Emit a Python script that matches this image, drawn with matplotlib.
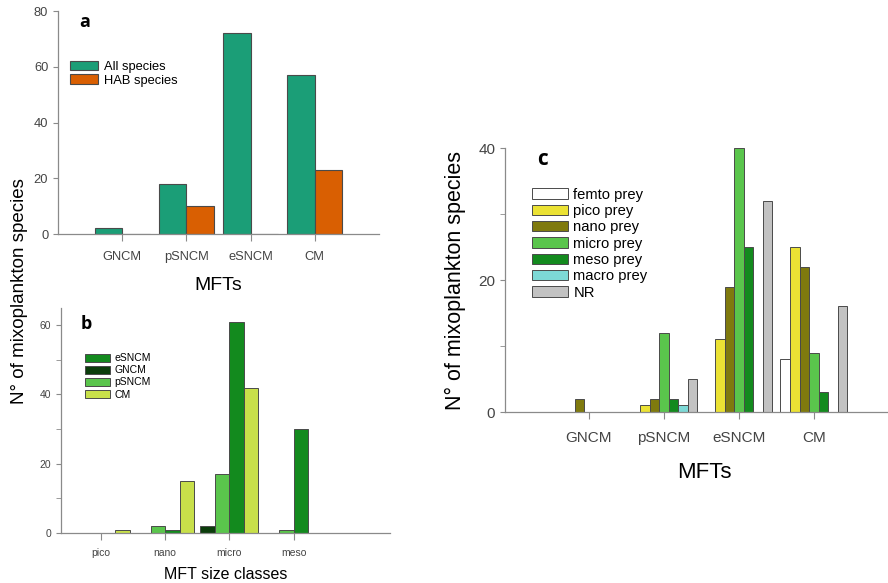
import numpy as np
import matplotlib.pyplot as plt
from matplotlib.ticker import MultipleLocator

plt.rcParams['font.family'] = ['Liberation Sans', 'DejaVu Sans']

# panel a
mft = ["GNCM", "pSNCM", "eSNCM", "CM"]
all_species = [2, 18, 72, 57]
hab_species = [0, 10, 0, 23]

# panel b
size_classes = ["pico", "nano", "micro", "meso"]
b_series = ["GNCM", "pSNCM", "eSNCM", "CM"]
b_gncm = [0, 0, 2, 0]
b_psncm = [0, 2, 17, 1]
b_esncm = [0, 1, 61, 30]
b_cm = [1, 15, 42, 0]

# panel c
prey = ["femto prey", "pico prey", "nano prey", "micro prey", "meso prey", "macro prey", "NR"]
femto = [0, 0, 0, 8]
pico = [0, 1, 11, 25]
nano = [2, 2, 19, 22]
micro = [0, 12, 40, 9]
meso = [0, 2, 25, 3]
macro = [0, 1, 0, 0]
nr = [0, 5, 32, 16]

edge = "#4a4a4a"
spine_col = "#8a8a8a"
tick_col = "#444444"


def style(ax, fs, pad):
    for s in ["top", "right"]:
        ax.spines[s].set_visible(False)
    for s in ["left", "bottom"]:
        ax.spines[s].set_color(spine_col)
        ax.spines[s].set_linewidth(0.9)
    ax.tick_params(colors=spine_col, labelcolor=tick_col, labelsize=fs, direction="out")
    ax.tick_params(axis="x", length=5, pad=pad)


fig = plt.figure(figsize=(8.88, 5.83), dpi=100)

# ---- a
ax1 = fig.add_axes([0.0653, 0.5986, 0.3615, 0.3825])
x = np.arange(1, 5)
w = 0.43
ax1.bar(x - w / 2, all_species, w, color="#1b9e77", edgecolor=edge, linewidth=0.8, label="All species")
ax1.bar(x + w / 2, hab_species, w, color="#d95f02", edgecolor=edge, linewidth=0.8, label="HAB species")
ax1.set_xlim(0, 5)
ax1.set_ylim(0, 80)
ax1.set_xticks(x)
ax1.set_xticklabels(mft)
ax1.set_yticks([0, 20, 40, 60, 80])
style(ax1, 9.3, 7)
ax1.set_xlabel("MFTs", fontsize=14, labelpad=10)
ax1.text(0.065, 0.95, "a", transform=ax1.transAxes, fontsize=13, fontweight="bold",
         family="Open Sans", va="center")
ax1.legend(loc="upper left", bbox_to_anchor=(0.0, 0.83), frameon=False, fontsize=9.3,
           handlelength=2.2, handleheight=0.8, labelspacing=0.1, handletextpad=0.45)

# ---- b
ax2 = fig.add_axes([0.0687, 0.0858, 0.3705, 0.386])
xb = np.arange(1, 5)
wb = 0.225
b_vals = [b_gncm, b_psncm, b_esncm, b_cm]
b_cols = ["#0b3d0b", "#5ac54c", "#138a1e", "#c8e04a"]
for i, (vals, col, name) in enumerate(zip(b_vals, b_cols, b_series)):
    ax2.bar(xb + (i - 1.5) * wb, vals, wb, color=col, edgecolor=edge, linewidth=0.7, label=name)
ax2.set_xlim(0.38, 5.5)
ax2.set_ylim(0, 65)
ax2.set_xticks(xb)
ax2.set_xticklabels(size_classes)
ax2.set_yticks([0, 20, 40, 60])
ax2.yaxis.set_minor_locator(MultipleLocator(10))
style(ax2, 7.5, 6)
ax2.tick_params(axis="y", which="minor", colors=spine_col, length=3.5)
ax2.set_xlabel("MFT size classes", fontsize=11.5, labelpad=6)
ax2.text(0.06, 0.93, "b", transform=ax2.transAxes, fontsize=13, fontweight="bold",
         family="Open Sans", va="center")
h, l = ax2.get_legend_handles_labels()
order = [2, 0, 1, 3]
ax2.legend([h[k] for k in order], [l[k] for k in order], loc="upper left",
           bbox_to_anchor=(0.045, 0.84), frameon=False, fontsize=7.5,
           handlelength=2.4, handleheight=0.8, labelspacing=0.2, handletextpad=0.4)

fig.text(0.022, 0.5, "N° of mixoplankton species", rotation=90, fontsize=13.5,
         ha="center", va="center")

# ---- c
ax3 = fig.add_axes([0.5687, 0.2933, 0.4482, 0.4528])
xc = np.arange(1, 5)
wc = 0.127
c_vals = [femto, pico, nano, micro, meso, macro, nr]
c_cols = ["#ffffff", "#ebe234", "#7f7a0e", "#5ac54c", "#138a1e", "#7dd9d6", "#c2c2c2"]
for i, (vals, col, name) in enumerate(zip(c_vals, c_cols, prey)):
    ax3.bar(xc + (i - 3) * wc, vals, wc, color=col, edgecolor=edge, linewidth=0.7, label=name)
ax3.set_xlim(-0.12, 5.19)
ax3.set_ylim(0, 40)
ax3.set_xticks(xc)
ax3.set_xticklabels(mft)
ax3.set_yticks([0, 20, 40])
ax3.yaxis.set_minor_locator(MultipleLocator(10))
style(ax3, 11, 9)
ax3.tick_params(axis="y", which="minor", colors=spine_col, length=3.5)
ax3.set_xlabel("MFTs", fontsize=16, labelpad=12)
ax3.set_ylabel("N° of mixoplankton species", fontsize=15.5, labelpad=9)
ax3.text(0.08, 0.955, "c", transform=ax3.transAxes, fontsize=15, fontweight="bold",
         family="Open Sans", va="center")
ax3.legend(loc="upper left", bbox_to_anchor=(0.035, 0.9), frameon=False, fontsize=10.6,
           handlelength=2.4, handleheight=0.7, labelspacing=0.16, handletextpad=0.4)

fig.savefig("out.png", dpi=100)
